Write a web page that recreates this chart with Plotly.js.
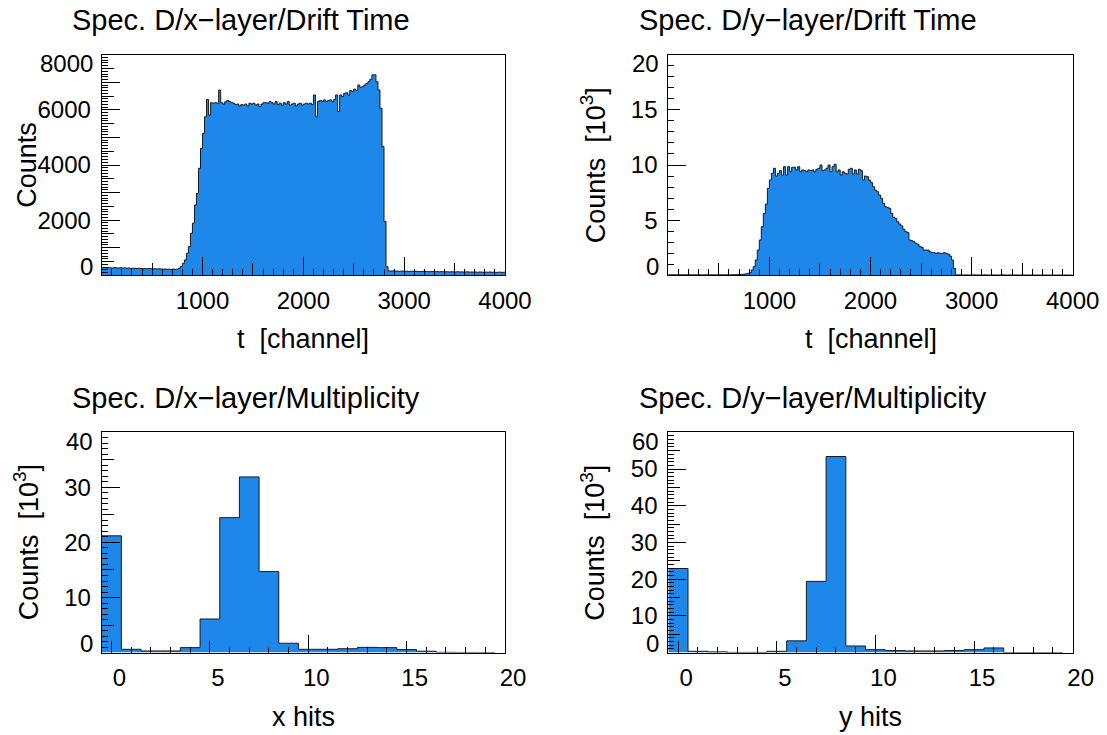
<!DOCTYPE html>
<html><head><meta charset="utf-8">
<script src="https://cdn.plot.ly/plotly-3.0.1.min.js"></script>
<style>html,body{margin:0;padding:0;background:#fff}</style>
</head><body><div id="chart" style="width:1107px;height:735px"></div>
<script>
// ---------------- data ----------------
const driftTMin = 0, driftBinWidth = 20;           // t [channel], 200 bins
const xLayerDriftCounts = [
 290,280,275,285,270,265,280,270,265,275,
 260,270,255,265,250,260,255,245,255,250,
 240,250,235,245,240,230,240,225,235,230,
 220,230,215,225,210,225,215,220,255,315,
 435,556,800,1040,1520,1890,2550,2970,3880,4600,
 5150,5750,6380,5810,6260,6240,6260,6240,6720,6260,
 6210,6290,6340,6300,6260,6240,6190,6210,6140,6190,
 6170,6210,6140,6240,6210,6240,6170,6210,6120,6210,
 6260,6260,6240,6300,6260,6210,6300,6190,6240,6170,
 6260,6210,6300,6170,6210,6240,6140,6210,6240,6170,
 6210,6240,6210,6240,6190,6540,5750,6300,6340,6300,
 6360,6300,6340,6360,6300,6380,6540,5940,6540,6480,
 6600,6620,6540,6700,6660,6750,6700,6900,6820,6840,
 6900,6960,7020,7110,7270,7270,7020,6720,6060,4670,
 1950,310,160,155,160,150,155,145,150,155,
 145,150,140,150,145,140,145,135,140,145,
 135,140,130,140,135,130,135,125,135,130,
 125,130,120,130,125,120,130,120,125,115,
 120,125,115,120,115,120,110,120,115,110,
 115,110,120,110,115,105,110,115,105,110
];
const yLayerDriftCounts = [ // in 10^3
 0.06,0.05,0.06,0.05,0.05,0.06,0.05,0.05,0.04,0.05,
 0.05,0.04,0.05,0.05,0.04,0.05,0.04,0.04,0.05,0.04,
 0.04,0.05,0.04,0.04,0.04,0.05,0.04,0.04,0.04,0.05,
 0.04,0.05,0.05,0.06,0.06,0.07,0.08,0.10,0.13,0.17,
 0.24,0.48,0.78,1.39,2.29,3.20,4.40,5.60,6.46,7.88,
 8.64,9.25,9.70,9.00,9.25,9.49,9.09,9.85,9.09,9.85,
 9.39,9.79,9.79,9.55,9.85,9.39,9.55,9.49,9.39,9.55,
 9.49,9.55,9.39,9.61,9.70,10.00,9.49,9.55,9.70,10.00,
 9.39,9.85,10.06,9.39,9.55,9.09,9.39,9.25,9.18,9.61,
 9.70,9.18,9.55,9.18,9.61,9.49,8.64,9.00,8.94,8.64,
 8.40,8.03,7.73,7.58,7.28,6.98,6.53,6.22,6.16,6.07,
 5.62,5.26,5.17,4.86,4.65,4.47,4.17,3.96,3.87,3.20,
 3.14,3.05,2.90,2.81,2.60,2.54,2.29,2.29,2.29,2.14,
 2.05,2.05,1.99,2.05,1.99,1.99,2.05,1.99,1.93,1.75,
 1.39,0.63,0.04,0.03,0.04,0.03,0.03,0.04,0.03,0.03,
 0.03,0.04,0.03,0.03,0.02,0.03,0.04,0.03,0.03,0.02,
 0.03,0.03,0.02,0.03,0.03,0.04,0.03,0.02,0.03,0.03,
 0.02,0.03,0.03,0.02,0.03,0.03,0.02,0.03,0.02,0.03,
 0.03,0.02,0.03,0.02,0.02,0.03,0.03,0.02,0.03,0.02,
 0.02,0.03,0.02,0.03,0.02,0.02,0.03,0.02,0.02,0.02
];
const hitsMin = -0.5, hitsBinWidth = 1;            // hits 0..19
const xLayerHits = [21.2,0.6,0.3,0.3,0.9,6.1,24.5,31.9,14.7,1.7,0.6,0.6,0.7,0.95,0.9,0.55,0.25,0.05,0.03,0.02]; // 10^3
const yLayerHits = [22.9,0.36,0.2,0.05,0.05,0.35,3.2,19.4,53.4,1.8,0.8,0.55,0.45,0.45,0.55,0.8,1.27,0.02,0.02,0.02]; // 10^3

const panelTitles = ['Spec. D/x\u2212layer/Drift Time','Spec. D/y\u2212layer/Drift Time','Spec. D/x\u2212layer/Multiplicity','Spec. D/y\u2212layer/Multiplicity'];
const xTitles = ['t  [channel]','t  [channel]','x hits','y hits'];
const yTitles = ['Counts','Counts  [10<sup>3</sup>]','Counts  [10<sup>3</sup>]','Counts  [10<sup>3</sup>]'];

const driftXLabels = [1000,2000,3000,4000];
const hitsXLabels = [0,5,10,15,20];
const yLabelVals = [[2000,4000,6000],[5,10,15],[10,20,30],[10,20,30,40,50]];
const yRanges = [[0,8000],[0,20],[0,40],[0,60]];
const yEdgeText = [['0','8000'],['0','20'],['0','40'],['0','60']];

// ---------------- style ----------------
const FONT = '"Liberation Sans", Arial, Helvetica, sans-serif';
const FILL = '#1e87ea';
const LINE = '#1a1a1a';
const W = 1107, H = 735;
const frames = [
  {l:101.7, r:505,    t:54.7,  b:275.3},
  {l:668.3, r:1072.7, t:54.7,  b:275.3},
  {l:101.7, r:505,    t:432.3, b:652.6},
  {l:668.3, r:1072.7, t:432.3, b:652.6}
];
const X_STANDOFF = 4, Y_STANDOFF = 5, Y_EDGE_GAP = 7;

function stepTrace(min, w, vals, xa, ya){
  const xs = [], ys = [];
  for(let i=0;i<vals.length;i++){ xs.push(min+i*w); ys.push(vals[i]); }
  xs.push(min+vals.length*w); ys.push(vals[vals.length-1]);
  return {type:'scatter', mode:'lines', x:xs, y:ys, xaxis:xa, yaxis:ya,
    line:{shape:'hv', color:LINE, width:1}, fill:'tozeroy', fillcolor:FILL,
    hoverinfo:'skip', showlegend:false};
}
function mainAxis(domain, range, anchor, tickvals, len, minorDtick, standoff, shift){
  return {domain, range, anchor, showline:true, mirror:true, linecolor:'#000', linewidth:1,
    ticks:'inside', tickmode:'array', tickvals, ticktext:tickvals.map(String), ticklen:len, tickwidth:1, tickcolor:'#000',
    minor:{ticks:'inside', tickmode:'linear', tick0:0, dtick:minorDtick, ticklen:6, tickwidth:1, tickcolor:'#000', showgrid:false},
    showgrid:false, zeroline:false, fixedrange:true, automargin:false,
    tickfont:{family:FONT, size:24, color:'#000'}, ticklabelstandoff:standoff, ticklabelshift:shift||0};
}
function extraAxis(overlay, anchor, range, tickvals, len){
  return {overlaying:overlay, anchor, range, tickmode:'array', tickvals, ticks:'inside', ticklen:len,
    tickwidth:1, tickcolor:'#000', showticklabels:false, showline:false, showgrid:false,
    zeroline:false, fixedrange:true, automargin:false};
}
function seq(a,b,s){ const o=[]; for(let v=a; v<=b+1e-9; v+=s) o.push(+v.toFixed(6)); return o; }

const layout = {width:W, height:H, margin:{l:0,r:0,t:0,b:0}, paper_bgcolor:'#fff', plot_bgcolor:'#fff',
  showlegend:false, annotations:[]};
const data = [];
const panelData = [xLayerDriftCounts, yLayerDriftCounts, xLayerHits, yLayerHits];

for(let p=0;p<4;p++){
  const f = frames[p];
  const xd = [f.l/W, f.r/W], yd = [1-f.b/H, 1-f.t/H];
  const xn = p===0?'':String(p+1);
  const xk = 'xaxis'+(p+1), yk = 'yaxis'+(p+1);
  const xa = 'x'+xn, ya = 'y'+xn;
  const isDrift = p<2;
  const xRange = isDrift ? [0,4000] : [-0.5,20];
  if(isDrift) layout[xk] = mainAxis(xd, xRange, ya, driftXLabels, 18, 100, X_STANDOFF, 0);
  else        layout[xk] = mainAxis(xd, xRange, ya, hitsXLabels, 12, 1, X_STANDOFF, 8);
  layout[yk] = mainAxis(yd, yRanges[p], xa, yLabelVals[p], p===1?12:18, p===0?100:1, Y_STANDOFF, 0);
  // medium / long tick levels on overlay axes
  const ex = 'xaxis'+(p+5), ey = 'yaxis'+(p+5);
  layout[ex] = isDrift ? extraAxis(xa, ya, xRange, seq(500,3500,1000), 12)
                       : extraAxis(xa, ya, xRange, [10], 18);
  if(p===0) layout[ey] = extraAxis(ya, xa, yRanges[p], seq(500,7500,1000), 12);
  else if(p===1) layout[ey] = extraAxis(ya, xa, yRanges[p], [10], 18);
  else layout[ey] = extraAxis(ya, xa, yRanges[p], seq(5, yRanges[p][1]-5, 10), 12);

  const vals = panelData[p];
  data.push(isDrift ? stepTrace(driftTMin, driftBinWidth, vals, xa, ya)
                    : stepTrace(hitsMin, hitsBinWidth, vals, xa, ya));
  data.push({type:'scatter', x:[], y:[], xaxis:'x'+(p+5), yaxis:'y'+(p+5), showlegend:false, hoverinfo:'skip'});

  // edge labels of the y axis (ROOT moves them inside the frame)
  const dref = (p===0?'x':'x'+(p+1))+' domain';
  layout.annotations.push({text:yEdgeText[p][0], xref:dref, x:0, xanchor:'right', xshift:-Y_EDGE_GAP,
    yref:ya, y:yRanges[p][0], yanchor:'middle', yshift:9, showarrow:false, font:{family:FONT,size:24,color:'#000'}});
  layout.annotations.push({text:yEdgeText[p][1], xref:dref, x:0, xanchor:'right', xshift:-Y_EDGE_GAP,
    yref:ya, y:yRanges[p][1], yanchor:'middle', yshift:-9, showarrow:false, font:{family:FONT,size:24,color:'#000'}});
  // panel title
  layout.annotations.push({text:panelTitles[p], xref:'paper', yref:'paper', x:(f.l-31.7)/W, y:1-(f.t-34.7)/H,
    xanchor:'left', yanchor:'middle', showarrow:false, font:{family:FONT,size:29,color:'#000'}});
  // axis titles
  layout.annotations.push({text:xTitles[p], xref:'paper', yref:'paper', x:(f.l+f.r)/2/W, y:1-(f.b+64)/H,
    xanchor:'center', yanchor:'middle', showarrow:false, font:{family:FONT,size:27,color:'#000'}});
  layout.annotations.push({text:yTitles[p], xref:'paper', yref:'paper', x:(f.l-75)/W, y:1-(f.t+f.b)/2/H,
    xanchor:'center', yanchor:'middle', textangle:-90, showarrow:false, font:{family:FONT,size:27,color:'#000'}});
}
// long (1000) ticks of the first y axis, between the labelled 2000s
layout.yaxis9 = extraAxis('y', 'x', yRanges[0], [1000,3000,5000,7000], 18);
data.push({type:'scatter', x:[], y:[], xaxis:'x5', yaxis:'y9', showlegend:false, hoverinfo:'skip'});

Plotly.newPlot('chart', data, layout, {staticPlot:true, displayModeBar:false});
</script>
</body></html>
